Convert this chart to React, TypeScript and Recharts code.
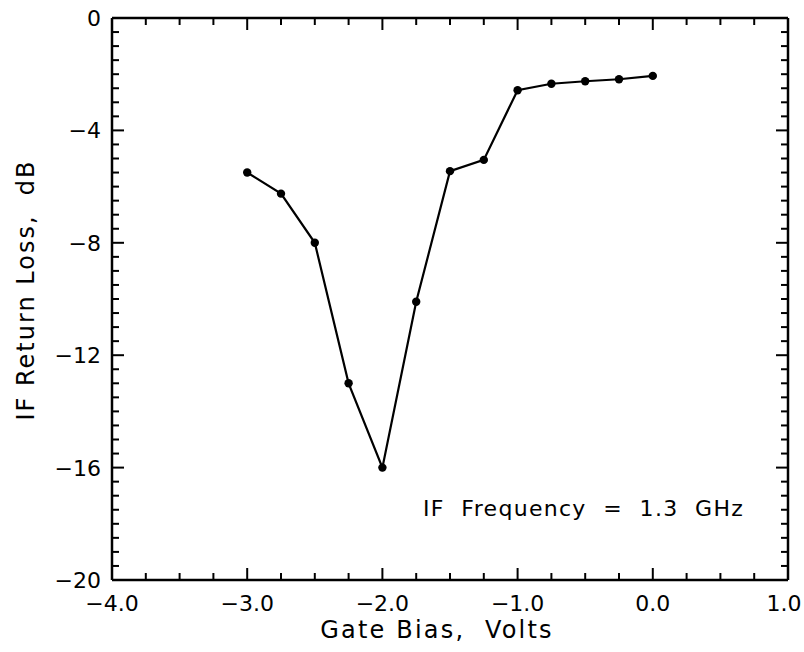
import { LineChart, Line, XAxis, YAxis } from 'recharts';

// Gate bias (V) and IF return loss (dB)
const gateBias = [-3.0, -2.75, -2.5, -2.25, -2.0, -1.75, -1.5, -1.25, -1.0, -0.75, -0.5, -0.25, 0.0];
const returnLoss = [-5.5, -6.25, -8.0, -13.0, -16.0, -10.1, -5.45, -5.05, -2.57, -2.34, -2.25, -2.18, -2.06];

const xMajorTicks = [-4, -3, -2, -1, 0, 1];
const yMajorTicks = [-20, -16, -12, -8, -4, 0];
const xMinorStep = 0.25;
const yMinorStep = 0.5;

const FONT = '"DejaVu Sans", sans-serif';
const W = 804;
const H = 652;

const data = gateBias.map((x, i) => ({ x, y: returnLoss[i] }));

// all tick positions (major + minor) between the first and last major tick
const fillTicks = (major: number[], step: number) => {
  const lo = major[0];
  const hi = major[major.length - 1];
  const n = Math.round((hi - lo) / step);
  return Array.from({ length: n + 1 }, (_, i) => lo + i * step);
};
const xTicks = fillTicks(xMajorTicks, xMinorStep);
const yTicks = fillTicks(yMajorTicks, yMinorStep);

const isMajorX = (v: number) => xMajorTicks.includes(v);
const isMajorY = (v: number) => yMajorTicks.includes(v);
const minus = (s: string) => s.replace('-', '\u2212');

const MAJOR = 12;
const MINOR = 7;
const TICK_W = 2;

const BottomTick = ({ x, y, payload }: any) => {
  const major = isMajorX(payload.value);
  return (
    <g>
      <line x1={x} x2={x} y1={y} y2={y - (major ? MAJOR : MINOR)} stroke="#000" strokeWidth={TICK_W} />
      {major && (
        <text x={Math.min(x, W - 20)} y={y + 31} textAnchor="middle" fontSize={22} fontFamily={FONT} fill="#000">
          {minus(payload.value.toFixed(1))}
        </text>
      )}
    </g>
  );
};

const TopTick = ({ x, y, payload }: any) => {
  const major = isMajorX(payload.value);
  return <line x1={x} x2={x} y1={y} y2={y + (major ? MAJOR : MINOR)} stroke="#000" strokeWidth={TICK_W} />;
};

const LeftTick = ({ x, y, payload }: any) => {
  const major = isMajorY(payload.value);
  return (
    <g>
      <line x1={x} x2={x + (major ? MAJOR : MINOR)} y1={y} y2={y} stroke="#000" strokeWidth={TICK_W} />
      {major && (
        <text x={x - 11} y={y + 8} textAnchor="end" fontSize={22} fontFamily={FONT} fill="#000">
          {minus(String(payload.value))}
        </text>
      )}
    </g>
  );
};

const RightTick = ({ x, y, payload }: any) => {
  const major = isMajorY(payload.value);
  return <line x1={x} x2={x - (major ? MAJOR : MINOR)} y1={y} y2={y} stroke="#000" strokeWidth={TICK_W} />;
};

const axisLine = { stroke: '#000', strokeWidth: 2.5 };

const axisCommon = {
  type: 'number' as const,
  interval: 0 as const,
  tickSize: 0,
  tickMargin: 0,
  tickLine: false,
  axisLine,
  allowDataOverflow: true,
};

export default function App() {
  return (
    <div style={{ position: 'absolute', left: 0, top: 0, width: W, height: H, background: '#fff', fontFamily: FONT }}>
      <LineChart width={W} height={H} data={data} margin={{ top: 17, right: 15, bottom: 71, left: 111 }}>
        <XAxis {...axisCommon} dataKey="x" domain={[-4, 1]} ticks={xTicks} height={1} tick={<BottomTick />} />
        <XAxis
          {...axisCommon}
          xAxisId="top"
          orientation="top"
          dataKey="x"
          domain={[-4, 1]}
          ticks={xTicks}
          height={1}
          tick={<TopTick />}
        />
        <YAxis {...axisCommon} domain={[-20, 0]} ticks={yTicks} width={1} tick={<LeftTick />} />
        <YAxis
          {...axisCommon}
          yAxisId="right"
          orientation="right"
          domain={[-20, 0]}
          ticks={yTicks}
          width={1}
          tick={<RightTick />}
        />
        {/* invisible copy so the top and right axes share the data domain */}
        <Line
          xAxisId="top"
          yAxisId="right"
          dataKey="y"
          stroke="none"
          dot={false}
          activeDot={false}
          isAnimationActive={false}
        />
        <Line
          dataKey="y"
          type="linear"
          stroke="#000"
          strokeWidth={2.2}
          dot={{ r: 4.2, fill: '#000', stroke: '#000', strokeWidth: 0 }}
          isAnimationActive={false}
        />
      </LineChart>
      <div
        style={{
          position: 'absolute',
          left: 0,
          top: 616,
          width: 874,
          textAlign: 'center',
          fontSize: 24,
          letterSpacing: 2.2,
          whiteSpace: 'pre',
        }}
      >
        {'Gate Bias,  Volts'}
      </div>
      <div
        style={{
          position: 'absolute',
          left: 26,
          top: 290,
          transform: 'translate(-50%, -50%) rotate(-90deg)',
          fontSize: 24,
          letterSpacing: 2,
          whiteSpace: 'pre',
        }}
      >
        {'IF Return Loss,  dB'}
      </div>
      <div style={{ position: 'absolute', left: 423, top: 496, fontSize: 22, letterSpacing: 1.3, whiteSpace: 'pre' }}>
        {'IF  Frequency  =  1.3  GHz'}
      </div>
    </div>
  );
}
